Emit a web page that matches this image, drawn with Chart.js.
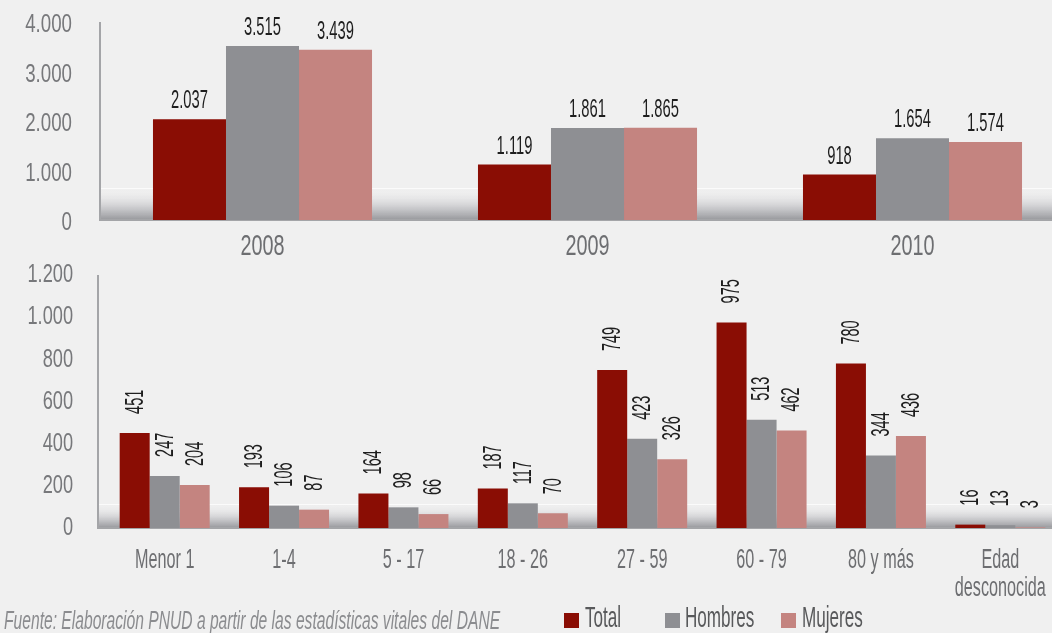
<!DOCTYPE html>
<html>
<head>
<meta charset="utf-8">
<script src="https://cdn.jsdelivr.net/npm/chart.js@4"></script>
<style>
  html, body { margin: 0; padding: 0; background: #f0f0f0; overflow: hidden; width: 1052px; height: 633px; }
  #top { position: absolute; left: 0; top: 0; width: 1075px; height: 268px; }
  #bottom { position: absolute; left: 0; top: 255px; width: 1060px; height: 360px; }
  .fuente { position: absolute; left: 4px; top: 608px; font: italic 26px "Liberation Sans", sans-serif; line-height: 25px; color: #8b8c8f; white-space: nowrap; transform-origin: left top; }
  .cuadro { position: absolute; top: 613px; width: 15px; height: 15px; }
  .ley { position: absolute; top: 602px; font: 30px "Liberation Sans", sans-serif; line-height: 30px; color: #58595b; white-space: nowrap; transform: scaleX(0.57); transform-origin: left top; }
</style>
</head>
<body>
<div id="top"><canvas id="chartAnios"></canvas></div>
<div id="bottom"><canvas id="chartEdad"></canvas></div>
<div class="fuente" id="fuente">Fuente: Elaboración PNUD a partir de las estadísticas vitales del DANE</div>
<div class="cuadro" style="left:564px;background:#8a0d04"></div><div class="ley" style="left:585px">Total</div>
<div class="cuadro" style="left:665px;background:#8e8f93"></div><div class="ley" style="left:685px">Hombres</div>
<div class="cuadro" style="left:781px;background:#c48480"></div><div class="ley" style="left:802px">Mujeres</div>
<script>
const anios = ['2008', '2009', '2010'];
const totalAnio = [2037, 1119, 918];
const hombresAnio = [3515, 1861, 1654];
const mujeresAnio = [3439, 1865, 1574];

const edades = ['Menor 1', '1-4', '5 - 17', '18 - 26', '27 - 59', '60 - 79', '80 y más', ['Edad', 'desconocida']];
const totalEdad = [451, 193, 164, 187, 749, 975, 780, 16];
const hombresEdad = [247, 106, 98, 117, 423, 513, 344, 13];
const mujeresEdad = [204, 87, 66, 70, 326, 462, 436, 3];

const colores = ['#8a0d04', '#8e8f93', '#c48480'];
const fam = '"Liberation Sans", Arial, sans-serif';

const miles = v => String(v).replace(/\B(?=(\d{3})+(?!\d))/g, '.');

// texto angosto (la fuente original es condensada)
function texto(ctx, s, x, y, k, rot) {
  ctx.save();
  ctx.translate(x, y);
  if (rot) ctx.rotate(rot);
  ctx.scale(k, 1);
  ctx.fillText(s, 0, 0);
  ctx.restore();
}

// piso degradado y eje vertical
const piso = {
  id: 'piso',
  beforeDatasetsDraw(chart, args, opts) {
    const { ctx, chartArea } = chart;
    const y0 = chart.scales.y.getPixelForValue(0);
    const x0 = chartArea.left - opts.ejeOffset;
    const g = ctx.createLinearGradient(0, y0 - opts.alto, 0, y0);
    g.addColorStop(0, 'rgba(240,240,240,0)');
    g.addColorStop(0.55, 'rgba(205,205,208,0.85)');
    g.addColorStop(1, 'rgba(150,151,155,1)');
    ctx.save();
    ctx.fillStyle = g;
    ctx.fillRect(x0, y0 - opts.alto, chartArea.right - x0, opts.alto);
    ctx.strokeStyle = 'rgba(255,255,255,0.7)';
    ctx.lineWidth = 1;
    ctx.beginPath();
    ctx.moveTo(x0, y0 - opts.alto + 0.5);
    ctx.lineTo(chartArea.right, y0 - opts.alto + 0.5);
    ctx.stroke();
    ctx.strokeStyle = '#a4a5a8';
    ctx.lineWidth = 2;
    ctx.beginPath();
    ctx.moveTo(x0, chartArea.top);
    ctx.lineTo(x0, y0);
    ctx.lineTo(chartArea.right, y0);
    ctx.stroke();
    ctx.restore();
  }
};

// ticks y etiquetas de valores
const textos = {
  id: 'textos',
  afterDraw(chart, args, o) {
    const { ctx } = chart;
    const sx = chart.scales.x, sy = chart.scales.y;
    ctx.save();
    ctx.fillStyle = '#77787b';
    ctx.font = o.yFont + 'px ' + fam;
    ctx.textAlign = 'right';
    ctx.textBaseline = 'middle';
    sy.ticks.forEach(t => {
      texto(ctx, miles(t.value), o.yRight, sy.getPixelForValue(t.value) + o.yShift, o.yScale);
    });

    ctx.fillStyle = '#6d6e71';
    ctx.font = o.xFont + 'px ' + fam;
    ctx.textAlign = 'center';
    chart.data.labels.forEach((lab, i) => {
      const lineas = Array.isArray(lab) ? lab : [lab];
      lineas.forEach((l, n) => {
        texto(ctx, l, sx.getPixelForTick(i), o.xTop + n * o.xLine, o.xScale);
      });
    });

    ctx.fillStyle = '#1e1e1e';
    ctx.font = '25px ' + fam;
    chart.data.datasets.forEach((ds, i) => {
      chart.getDatasetMeta(i).data.forEach((bar, j) => {
        const s = miles(ds.data[j]);
        if (o.vertical) {
          ctx.textAlign = 'left';
          ctx.textBaseline = 'middle';
          texto(ctx, s, bar.x + 1, bar.y - o.gap, 0.58, -Math.PI / 2);
        } else {
          ctx.textAlign = 'center';
          ctx.textBaseline = 'alphabetic';
          texto(ctx, s, bar.x, bar.y - o.gap, 0.59);
        }
      });
    });
    ctx.restore();
  }
};

function opciones(max, paso, padTop, anchoEje, altoEje, catPct, ejeOffset, alto, txt) {
  return {
    responsive: true,
    maintainAspectRatio: false,
    animation: false,
    layout: { padding: { top: padTop, right: 0, left: 0, bottom: 0 } },
    plugins: {
      legend: { display: false },
      tooltip: { enabled: false },
      textos: txt,
      piso: { ejeOffset: ejeOffset, alto: alto }
    },
    datasets: { bar: { categoryPercentage: catPct, barPercentage: 1 } },
    scales: {
      x: {
        grid: { display: false, drawTicks: false },
        border: { display: false },
        ticks: { display: false, autoSkip: false },
        afterFit: s => { s.height = altoEje; }
      },
      y: {
        min: 0, max: max,
        grid: { display: false, drawTicks: false },
        border: { display: false },
        ticks: { display: false, stepSize: paso },
        afterFit: s => { s.width = anchoEje; }
      }
    }
  };
}

function series(t, h, m) {
  return [
    { label: 'Total', data: t, backgroundColor: colores[0] },
    { label: 'Hombres', data: h, backgroundColor: colores[1] },
    { label: 'Mujeres', data: m, backgroundColor: colores[2] }
  ];
}

new Chart(document.getElementById('chartAnios'), {
  type: 'bar',
  data: { labels: anios, datasets: series(totalAnio, hombresAnio, mujeresAnio) },
  options: opciones(4000, 1000, 22, 100, 48, 0.674, 0, 32, {
    yFont: 26, yScale: 0.72, yRight: 72, yShift: 3,
    xFont: 30, xScale: 0.66, xTop: 247, xLine: 30,
    vertical: false, gap: 11
  }),
  plugins: [piso, textos]
});

new Chart(document.getElementById('chartEdad'), {
  type: 'bar',
  data: { labels: edades, datasets: series(totalEdad, hombresEdad, mujeresEdad) },
  options: opciones(1200, 200, 20, 105, 87, 0.754, 7, 24, {
    yFont: 26, yScale: 0.7, yRight: 73, yShift: 0,
    xFont: 27, xScale: 0.6, xTop: 306, xLine: 28,
    vertical: true, gap: 19
  }),
  plugins: [piso, textos]
});

const f = document.getElementById('fuente');
f.style.transform = 'scaleX(' + (496 / f.offsetWidth) + ')';
</script>
</body>
</html>
